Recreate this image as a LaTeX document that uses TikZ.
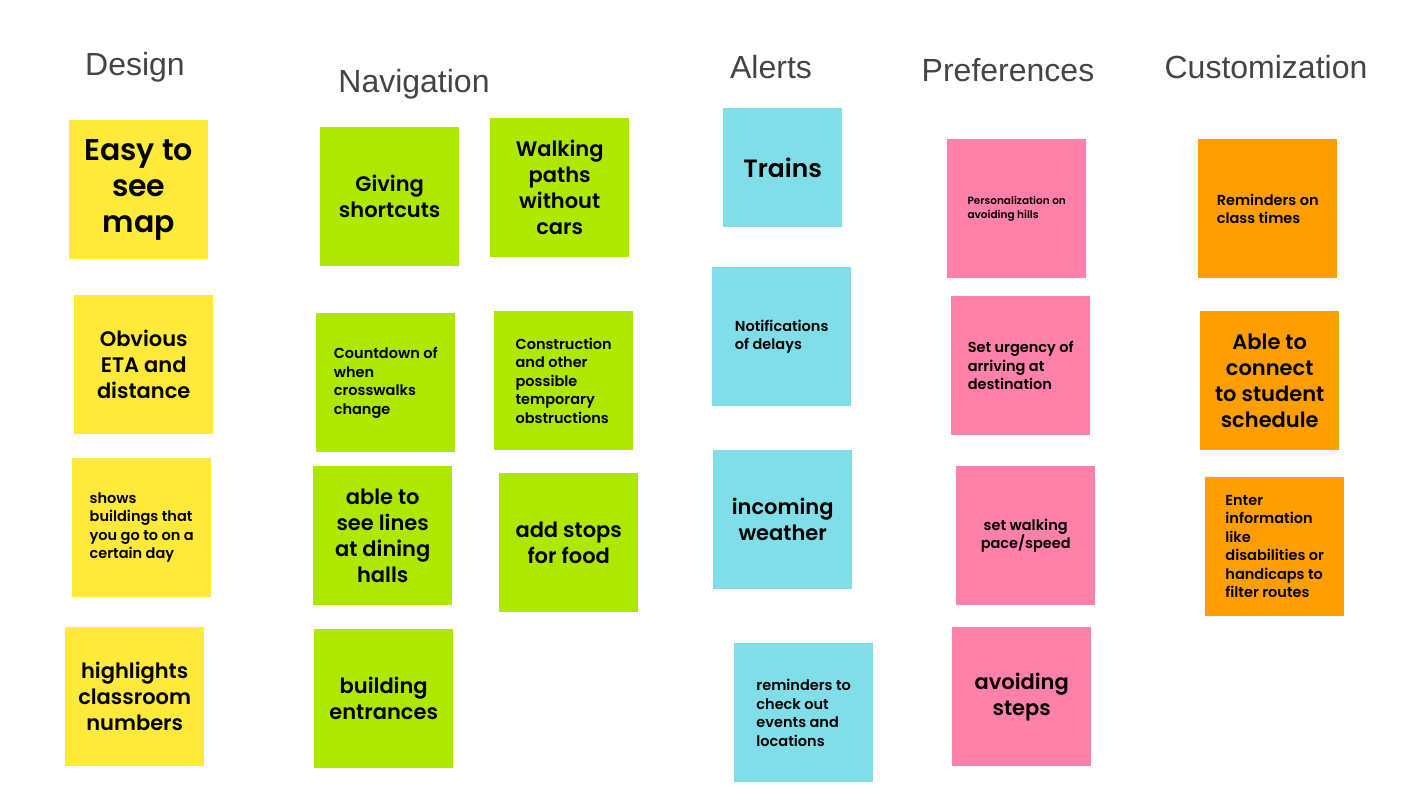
\documentclass[tikz,border=0pt]{standalone}
\usepackage{fontspec}
\setmainfont{Poppins}[BoldFont={Poppins SemiBold}]
\newfontfamily\headfont{Liberation Sans}
\begin{document}
\begin{tikzpicture}[x=1pt,y=-1pt,
  note/.style={minimum width=139pt,minimum height=139pt,inner sep=0pt,anchor=north west},
  yel/.style={note,fill=noteyellow},
  grn/.style={note,fill=notegreen},
  cyn/.style={note,fill=notecyan},
  pnk/.style={note,fill=notepink},
  org/.style={note,fill=noteorange},
  head/.style={font=\headfont\fontsize{32}{36}\selectfont,text=headgray,inner sep=0pt},
  huge/.style={align=center,font=\bfseries\fontsize{30}{36}\selectfont,inner sep=0pt},
  big/.style={align=center,font=\bfseries\fontsize{21}{26}\selectfont,inner sep=0pt},
  small/.style={align=left,font=\bfseries\fontsize{14.5}{18.5}\selectfont,inner sep=0pt},
  tiny/.style={align=left,font=\bfseries\fontsize{10.5}{14}\selectfont,inner sep=0pt}]
\definecolor{noteyellow}{HTML}{FFE93B}
\definecolor{notegreen}{HTML}{AEE800}
\definecolor{notecyan}{HTML}{80DEE9}
\definecolor{notepink}{HTML}{FF80A8}
\definecolor{noteorange}{HTML}{FF9E00}
\definecolor{headgray}{HTML}{444444}
\useasboundingbox[fill=white] (0,0) rectangle (1422,800);

% column headings
\node[head] (hdesign) at (135,67) {Design};
\node[head] (hnav) at (414,84) {Navigation};
\node[head] (halert) at (771,67) {Alerts};
\node[head] (hpref) at (1008,70) {Preferences};
\node[head] (hcust) at (1266,67) {Customization};

% Design
\node[yel] (d1) at (69,120) {};
\node[huge] at (d1.center) {Easy to\\see\\map};
\node[yel] (d2) at (74,295) {};
\node[big] at (d2.center) {Obvious\\ETA and\\distance};
\node[yel] (d3) at (72,458) {};
\node[small] at (d3.center) {shows\\buildings that\\you go to on a\\certain day};
\node[yel] (d4) at (65,627) {};
\node[big] at (d4.center) {highlights\\classroom\\numbers};

% Navigation
\node[grn] (n1) at (320,127) {};
\node[big] at (n1.center) {Giving\\shortcuts};
\node[grn] (n2) at (490,118) {};
\node[big] at (n2.center) {Walking\\paths\\without\\cars};
\node[grn] (n3) at (316,313) {};
\node[small] at (n3.center) {Countdown of\\when\\crosswalks\\change};
\node[grn] (n4) at (494,311) {};
\node[small] at (n4.center) {Construction\\and other\\possible\\temporary\\obstructions};
\node[grn] (n5) at (313,466) {};
\node[big] at (n5.center) {able to\\see lines\\at dining\\halls};
\node[grn] (n6) at (499,473) {};
\node[big] at (n6.center) {add stops\\for food};
\node[grn] (n7) at (314,629) {};
\node[big] at (n7.center) {building\\entrances};

% Alerts
\node[cyn,minimum width=119pt,minimum height=119pt] (a1) at (723,108) {};
\node[big,font=\bfseries\fontsize{25}{30}\selectfont] at (a1.center) {Trains};
\node[cyn] (a2) at (712,267) {};
\node[small] at (a2.center) {Notifications\\of delays};
\node[cyn] (a3) at (713,450) {};
\node[big] at (a3.center) {incoming\\weather};
\node[cyn] (a4) at (734,643) {};
\node[small] at (a4.center) {reminders to\\check out\\events and\\locations};

% Preferences
\node[pnk] (p1) at (947,139) {};
\node[tiny] at (p1.center) {Personalization on\\avoiding hills};
\node[pnk] (p2) at (951,296) {};
\node[small] at (p2.center) {Set urgency of\\arriving at\\destination};
\node[pnk] (p3) at (956,466) {};
\node[small,align=center] at (p3.center) {set walking\\pace/speed};
\node[pnk] (p4) at (952,627) {};
\node[big] at (p4.center) {avoiding\\steps};

% Customization
\node[org] (c1) at (1198,139) {};
\node[small] at (c1.center) {Reminders on\\class times};
\node[org] (c2) at (1200,311) {};
\node[big] at (c2.center) {Able to\\connect\\to student\\schedule};
\node[org] (c3) at (1205,477) {};
\node[small] at (c3.center) {Enter\\information\\like\\disabilities or\\handicaps to\\filter routes};
\end{tikzpicture}
\end{document}
